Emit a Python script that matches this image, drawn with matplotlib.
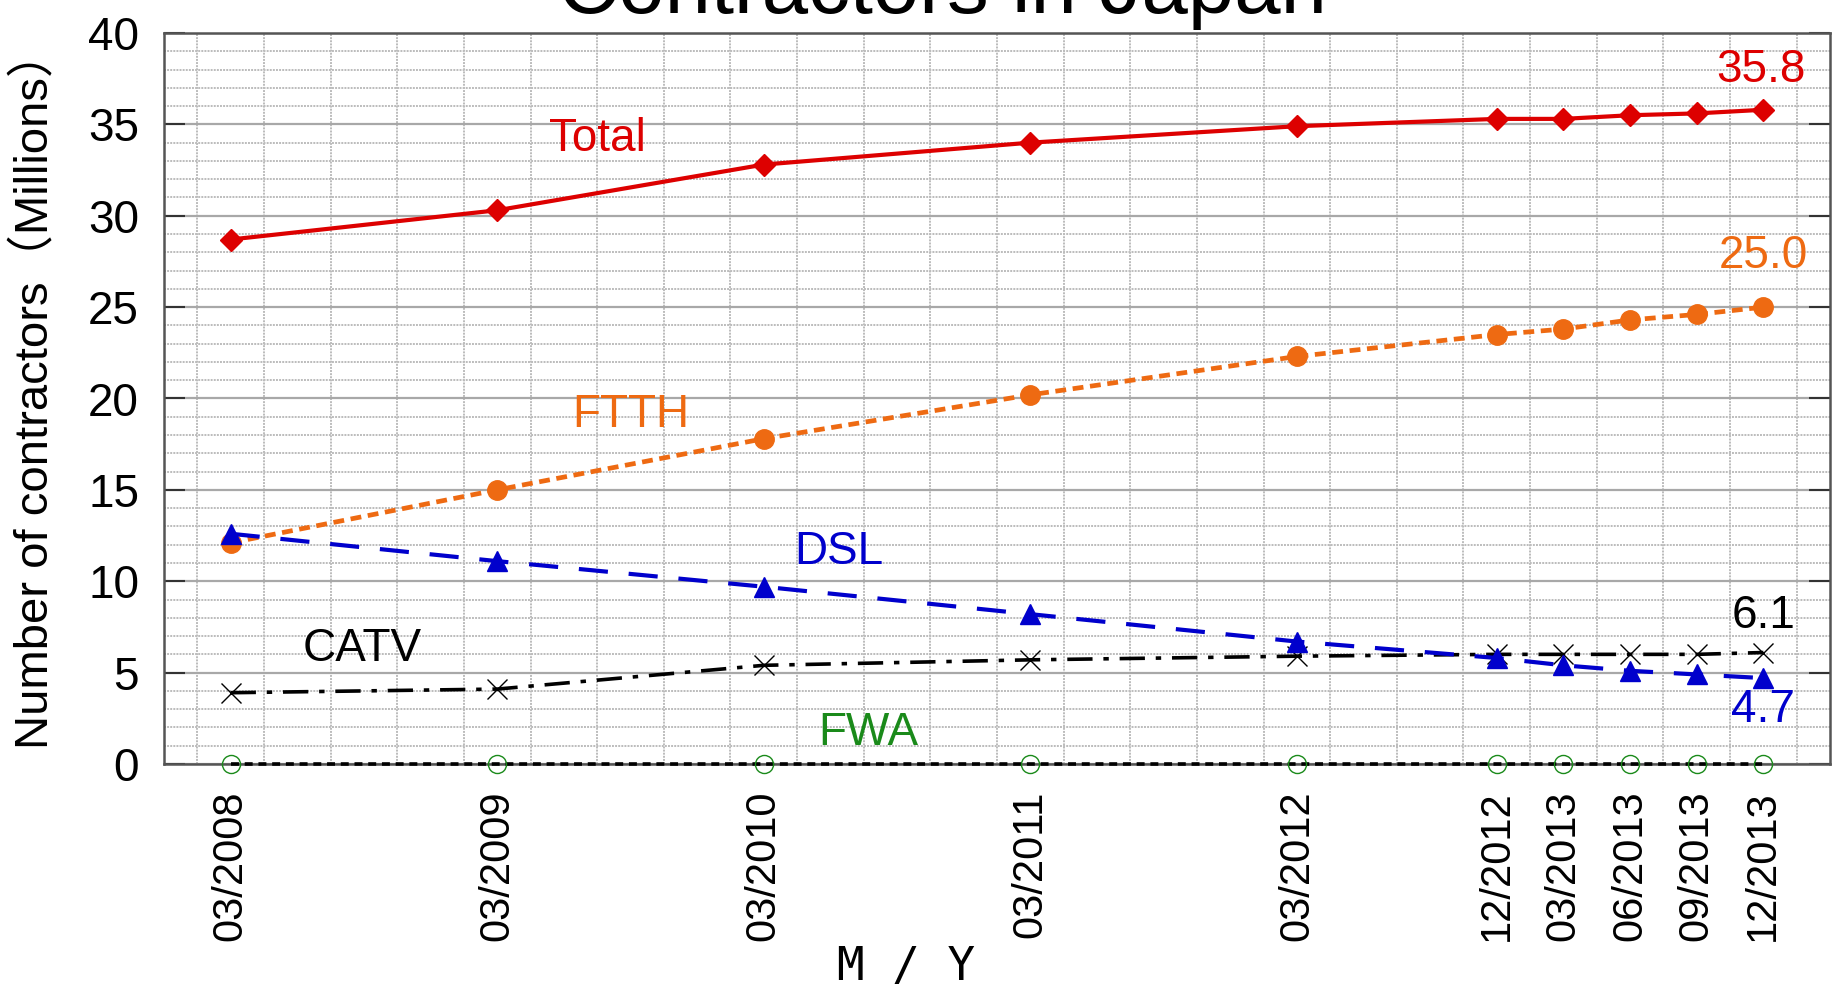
import matplotlib
matplotlib.use('Agg')
import matplotlib.pyplot as plt
from matplotlib.ticker import MultipleLocator, FixedLocator

plt.rcParams['font.family'] = ['Liberation Sans', 'DejaVu Sans']

# data (millions of contractors)
dates = ['03/2008', '03/2009', '03/2010', '03/2011', '03/2012',
         '12/2012', '03/2013', '06/2013', '09/2013', '12/2013']
total = [28.7, 30.3, 32.8, 34.0, 34.9, 35.3, 35.3, 35.5, 35.6, 35.8]
ftth = [12.1, 15.0, 17.8, 20.2, 22.3, 23.5, 23.8, 24.3, 24.6, 25.0]
dsl = [12.6, 11.1, 9.7, 8.2, 6.7, 5.8, 5.4, 5.1, 4.9, 4.7]
catv = [3.9, 4.1, 5.4, 5.7, 5.9, 6.0, 6.0, 6.0, 6.0, 6.1]
fwa = [0.02, 0.02, 0.02, 0.02, 0.02, 0.02, 0.02, 0.02, 0.02, 0.02]

# months since 03/2008
months = [(int(d[3:]) - 2008) * 12 + int(d[:2]) - 3 for d in dates]

RED = '#dd0000'
ORANGE = '#ee6a12'
BLUE = '#0000cc'
GREEN = '#1a8a1a'

fig = plt.figure(figsize=(18.34, 9.91), dpi=100)
ax = fig.add_axes([164 / 1834, 1 - 764 / 991, (1830 - 164) / 1834, (764 - 33) / 991])

# series
ax.plot(months, fwa, color='k', lw=2.6, dashes=(2.2, 1.6), marker='o', ms=13,
        mfc='none', mec=GREEN, mew=1.0, zorder=3, clip_on=False)
ax.plot(months, catv, color='k', lw=2.6, dashes=(7, 3, 1.5, 3), marker='x', ms=15,
        mec='k', mew=1.0, zorder=4)
ax.plot(months, ftth, color=ORANGE, lw=3.4, dashes=(2.3, 1.4), marker='o', ms=14,
        mfc=ORANGE, mec=ORANGE, zorder=5)
ax.plot(months, dsl, color=BLUE, lw=3.0, dashes=(7, 5), marker='^', ms=14,
        mfc=BLUE, mec=BLUE, zorder=6)
ax.plot(months, total, color=RED, lw=3.0, marker='D', ms=11,
        mfc=RED, mec=RED, zorder=7)

# axes
ax.set_xlim(-3, 72)
ax.set_ylim(0, 40)
ax.xaxis.set_major_locator(FixedLocator(months))
ax.set_xticklabels(dates, rotation=90, fontsize=30)
ax.xaxis.set_minor_locator(FixedLocator([-1.5 + 3 * k for k in range(25)]))
ax.yaxis.set_major_locator(MultipleLocator(5))
ax.yaxis.set_minor_locator(MultipleLocator(1))
ax.tick_params(axis='x', which='both', length=0, pad=19)
ax.tick_params(axis='y', which='major', direction='in', length=15, width=1.5,
               color='#333333', right=True, labelsize=33, pad=18)
ax.tick_params(axis='y', which='minor', length=0)

ax.grid(which='major', axis='y', color='#a8a8a8', lw=1.6, ls='-', zorder=0)
ax.grid(which='minor', axis='y', color='#bcbcbc', lw=1.4, ls=(0, (1, 0.6)), zorder=0)
ax.grid(which='minor', axis='x', color='#bcbcbc', lw=1.4, ls=(0, (1, 0.6)), zorder=0)
ax.set_axisbelow(True)
for sp in ax.spines.values():
    sp.set_color('#555555')
    sp.set_linewidth(1.8)

# labels on the series
ax.text(16.5, 34.2, 'Total', color=RED, fontsize=33, ha='center', va='center')
ax.text(68.9, 38.0, f'{total[-1]:.1f}', color=RED, fontsize=33, ha='center', va='center')
ax.text(18.0, 19.1, 'FTTH', color=ORANGE, fontsize=33, ha='center', va='center')
ax.text(69.0, 27.8, f'{ftth[-1]:.1f}', color=ORANGE, fontsize=33, ha='center', va='center')
ax.text(27.4, 11.6, 'DSL', color=BLUE, fontsize=33, ha='center', va='center')
ax.text(69.0, 2.95, f'{dsl[-1]:.1f}', color=BLUE, fontsize=33, ha='center', va='center')
ax.text(5.9, 6.3, 'CATV', color='k', fontsize=33, ha='center', va='center')
ax.text(69.0, 8.1, f'{catv[-1]:.1f}', color='k', fontsize=33, ha='center', va='center')
ax.text(28.7, 1.7, 'FWA', color=GREEN, fontsize=33, ha='center', va='center')

# titles
fig.text(942 / 1834, 1 - 13 / 991, 'Contractors in Japan', fontsize=60,
         ha='center', va='baseline')
fig.text(35 / 1834, 1 - 389.5 / 991, 'Number of contractors\uff08Millions\uff09',
         rotation=90, fontsize=34, ha='center', va='center',
         family=['Liberation Sans', 'Noto Sans CJK JP'])
fig.text(906 / 1834, 1 - 968 / 991, 'M / Y', fontsize=33, ha='center', va='center',
         family=['DejaVu Sans Mono'])

fig.savefig('out.png', dpi=100)
